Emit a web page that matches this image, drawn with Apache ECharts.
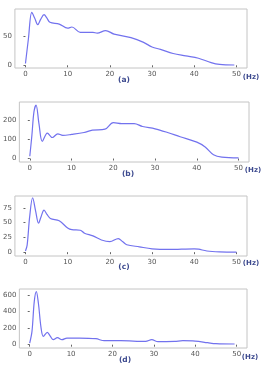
<!DOCTYPE html>
<html>
<head>
<meta charset="utf-8">
<script src="https://cdn.jsdelivr.net/npm/echarts@6/dist/echarts.min.js"></script>
<style>
  html, body { margin: 0; padding: 0; background: #fff; }
  #chart { width: 263px; height: 367px; }
</style>
</head>
<body>
<div id="chart"></div>
<script>
// spectra (Hz / amplitude)
var freqA = [0, 0.7, 1.5, 2.2, 2.9, 3.6, 4.4, 5.1, 5.8, 8, 10, 11, 13, 16, 17, 19, 21, 25, 28, 30, 32, 35, 38, 41, 44, 46, 49.5];
var ampA  = [3, 45, 90, 80, 69, 78, 86, 80, 73, 70, 63, 65, 56, 56, 54.5, 59, 53, 47, 39, 31, 27, 20, 16, 12, 4.5, 1.5, 0.5];

var freqB = [0, 0.5, 1.0, 1.5, 2.2, 3.0, 4.2, 5.4, 6.7, 7.9, 10, 13, 15, 18, 20, 22, 25, 27, 30, 33, 36, 40, 42, 44, 46, 50];
var ampB  = [12, 120, 243, 277, 180, 89, 132, 109, 128, 120, 125, 135, 147, 152, 186, 181, 181, 166, 154, 135, 113, 85, 60, 20, 7, 3];

var freqC = [0, 0.4, 1.0, 1.7, 2.4, 3.1, 3.7, 4.4, 5.1, 5.9, 8, 10, 11, 13, 14, 16, 18, 20, 22, 23, 24, 27, 30, 34, 40, 41, 43, 46, 50];
var ampC  = [2, 12, 60, 92, 70, 49, 60, 71, 64, 57, 53, 41, 38, 37, 32, 27.5, 20.6, 17.7, 23, 18, 12.6, 9, 5.7, 4.6, 5.7, 5, 2, 0.5, 0];

var freqD = [0, 0.55, 1.1, 1.6, 2.1, 2.75, 3.3, 4.25, 5.0, 5.7, 6.7, 7.8, 9, 12, 16, 18, 22, 28, 29.5, 31, 35, 37, 40, 43, 45, 49.5];
var ampD  = [20, 160, 520, 640, 500, 200, 100, 148, 100, 60, 84, 60, 80, 80, 72, 48, 48, 40, 60, 36, 40, 48, 44, 24, 12, 8];

var xTicks = [0, 10, 20, 30, 40, 50];
var yTicksA = [0, 50];
var yTicksB = [0, 100, 200];
var yTicksC = [0, 25, 50, 75];
var yTicksD = [0, 200, 400, 600];

var panelNames = ['(a)', '(b)', '(c)', '(d)'];

function pairs(xs, ys) {
  var out = [];
  for (var i = 0; i < xs.length; i++) {
    out.push([xs[i], ys[i]]);
  }
  return out;
}

var panels = [
  { x: freqA, y: ampA, ticks: yTicksA, ymin: -4.6, ymax: 95.6, grid: { left: 11, right: 16, top: 9, height: 59 }, lab: [124, 80], hz: [251, 77] },
  { x: freqB, y: ampB, ticks: yTicksB, ymin: -18, ymax: 293, grid: { left: 16, right: 14, top: 102, height: 60 }, lab: [128, 174], hz: [253, 170] },
  { x: freqC, y: ampC, ticks: yTicksC, ymin: -6.5, ymax: 95, grid: { left: 12, right: 16, top: 196, height: 60 }, lab: [124, 267], hz: [251, 263] },
  { x: freqD, y: ampD, ticks: yTicksD, ymin: -40, ymax: 672, grid: { left: 14, right: 16, top: 289, height: 59 }, lab: [125, 360], hz: [250, 357] }
];

var labelColor = '#555';
var nameColor = '#3d4a8f';
var grids = [], xAxes = [], yAxes = [], series = [], graphics = [];

for (var i = 0; i < panels.length; i++) {
  var p = panels[i];
  grids.push({
    left: p.grid.left, right: p.grid.right, top: p.grid.top, height: p.grid.height,
    show: true, borderColor: '#c4c4c4', borderWidth: 1, backgroundColor: '#fff'
  });
  xAxes.push({
    type: 'value', gridIndex: i, min: -2.5, max: 52.5,
    axisLine: { show: false },
    splitLine: { show: false },
    axisTick: { show: true, length: 2, lineStyle: { color: '#666' }, customValues: xTicks },
    axisLabel: { color: labelColor, fontSize: 7, margin: 3, fontFamily: 'DejaVu Sans', customValues: xTicks }
  });
  yAxes.push({
    type: 'value', gridIndex: i, min: p.ymin, max: p.ymax,
    axisLine: { show: false },
    splitLine: { show: false },
    axisTick: { show: true, length: 2, lineStyle: { color: '#666' }, customValues: p.ticks },
    axisLabel: { color: labelColor, fontSize: 7, margin: 3, fontFamily: 'DejaVu Sans', customValues: p.ticks }
  });
  series.push({
    type: 'line', xAxisIndex: i, yAxisIndex: i,
    data: pairs(p.x, p.y),
    smooth: 0.35, showSymbol: false,
    lineStyle: { color: '#7272ee', width: 1.2 }
  });
  graphics.push({
    type: 'text', x: p.lab[0], y: p.lab[1],
    style: { text: panelNames[i], fill: nameColor, font: 'bold 7.5px DejaVu Sans', align: 'center', verticalAlign: 'middle' }
  });
  graphics.push({
    type: 'text', x: p.hz[0], y: p.hz[1],
    style: { text: '(Hz)', fill: nameColor, font: 'bold 7px DejaVu Sans', align: 'center', verticalAlign: 'middle' }
  });
}

var myChart = echarts.init(document.getElementById('chart'), null, { renderer: 'canvas' });
myChart.setOption({
  animation: false,
  grid: grids,
  xAxis: xAxes,
  yAxis: yAxes,
  series: series,
  graphic: graphics
});
</script>
</body>
</html>
